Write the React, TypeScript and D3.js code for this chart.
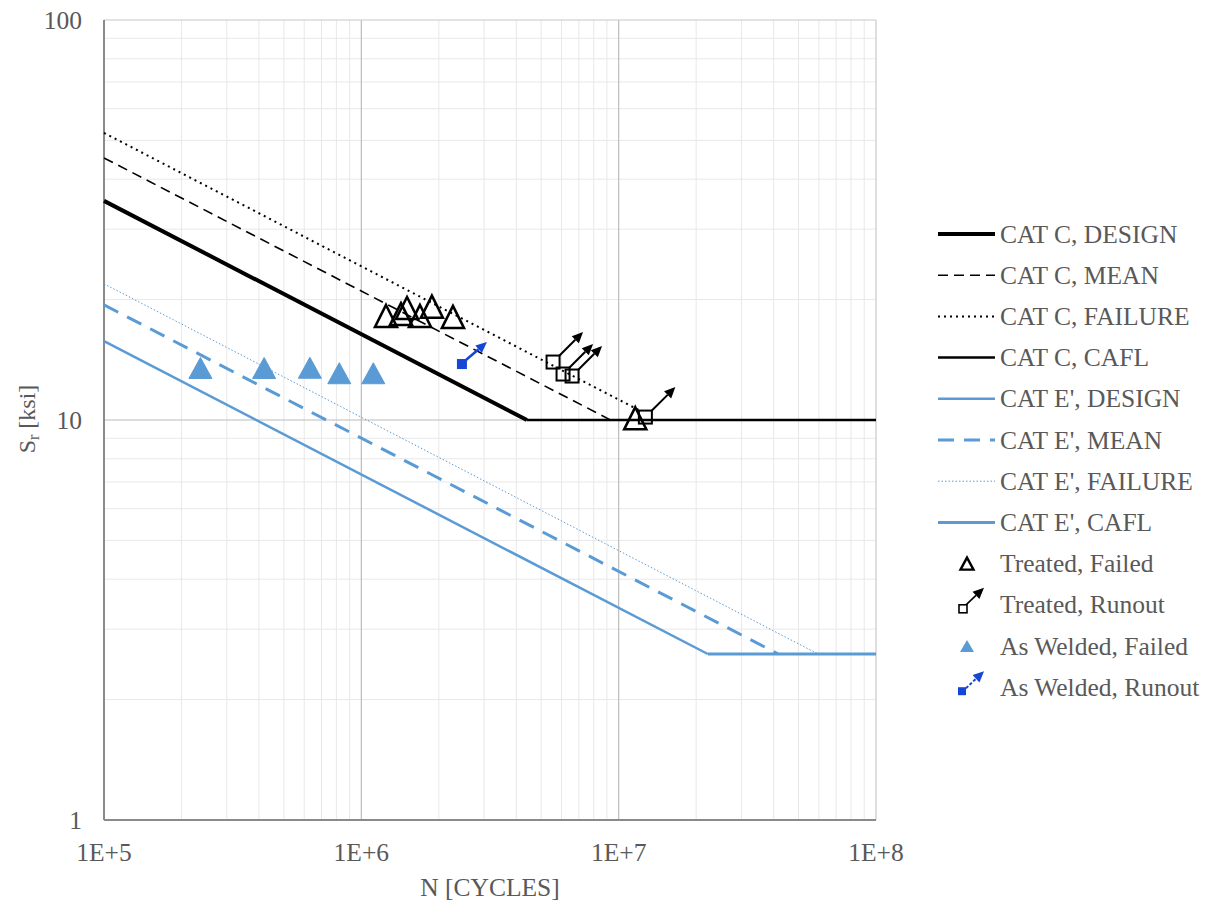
import React from "react";
import * as d3 from "d3";

// ---------- data ----------
const xDomain = [1e5, 1e8];
const yDomain = [1, 100];
const xTickLabels = ["1E+5", "1E+6", "1E+7", "1E+8"];
const yTickLabels = ["1", "10", "100"];

// S-N curves: [N, Sr]
const catCDesign = [[1e5, 35.3], [4.4e6, 10]];
const catCMean = [[1e5, 45.2], [9.3e6, 10]];
const catCFailure = [[1e5, 52.2], [1.2e7, 10.58]];
const catCCafl = [[4.4e6, 10], [1e8, 10]];
const catEDesign = [[1e5, 15.74], [2.22e7, 2.6]];
const catEMean = [[1e5, 19.4], [4.17e7, 2.6]];
const catEFailure = [[1e5, 21.9], [5.96e7, 2.6]];
const catECafl = [[2.22e7, 2.6], [1e8, 2.6]];

// test data: [N, Sr]
const treatedFailed = [
  [1.247e6, 18.2], [1.426e6, 18.4], [1.505e6, 19.05], [1.69e6, 18.2],
  [1.88e6, 19.2], [2.27e6, 18.1], [1.16e7, 10.1],
];
const treatedRunout = [[5.56e6, 13.96], [6.08e6, 13.03], [6.59e6, 12.88], [1.27e7, 10.17]];
const weldedFailed = [[2.37e5, 13.49], [4.19e5, 13.49], [6.31e5, 13.51], [8.21e5, 13.09], [1.113e6, 13.09]];
const weldedRunout = [[2.46e6, 13.8]];

const legendLabels = [
  "CAT C, DESIGN", "CAT C, MEAN", "CAT C, FAILURE", "CAT C, CAFL",
  "CAT E', DESIGN", "CAT E', MEAN", "CAT E', FAILURE", "CAT E', CAFL",
  "Treated, Failed", "Treated, Runout", "As Welded, Failed", "As Welded, Runout",
];

// ---------- styles ----------
const BLUE = "#5B9BD5";
const RUN_BLUE = "#1646d6";
const TEXT = "#595959";
const FONT = "'Liberation Serif', 'Times New Roman', serif";
const FS = 25.5;

const lineStyles = [
  { stroke: "#000", width: 4, dash: null },
  { stroke: "#000", width: 1.6, dash: "10,6" },
  { stroke: "#000", width: 2, dash: "2,4" },
  { stroke: "#000", width: 2.5, dash: null },
  { stroke: BLUE, width: 2.5, dash: null },
  { stroke: BLUE, width: 3, dash: "16,10" },
  { stroke: BLUE, width: 1, dash: "1.5,2" },
  { stroke: BLUE, width: 3, dash: null },
];
const curves = [catCDesign, catCMean, catCFailure, catCCafl, catEDesign, catEMean, catEFailure, catECafl];

const W = 1220, H = 907;
const L = 104, R = 876, T = 20, B = 820;

function triPath(cx: number, cy: number, w: number, h: number) {
  return `M${cx},${cy - h / 2}L${cx + w / 2},${cy + h / 2}L${cx - w / 2},${cy + h / 2}Z`;
}

function Arrow({ x1, y1, x2, y2, color, width, dash }: any) {
  const ang = Math.atan2(y2 - y1, x2 - x1);
  const hl = 11, hw = 5;
  const bx = x2 - hl * Math.cos(ang), by = y2 - hl * Math.sin(ang);
  const px = -Math.sin(ang) * hw, py = Math.cos(ang) * hw;
  return (
    <g>
      <line x1={x1} y1={y1} x2={bx} y2={by} stroke={color} strokeWidth={width} strokeDasharray={dash || undefined} />
      <path d={`M${x2},${y2}L${bx + px},${by + py}L${bx - px},${by - py}Z`} fill={color} />
    </g>
  );
}

export default function App() {
  const x = d3.scaleLog().domain(xDomain).range([L, R]);
  const y = d3.scaleLog().domain(yDomain).range([B, T]);
  const line = d3.line<number[]>().x((d) => x(d[0])).y((d) => y(d[1]));

  const xMinor: number[] = [];
  for (let e = 5; e < 8; e++) for (let k = 2; k <= 9; k++) xMinor.push(k * Math.pow(10, e));
  const yMinor: number[] = [];
  for (let e = 0; e < 2; e++) for (let k = 2; k <= 9; k++) yMinor.push(k * Math.pow(10, e));
  const xMajor = [1e6, 1e7];
  const yMajor = [10];

  const legendY0 = 234, legendDy = 41.2;
  const lx1 = 938, lx2 = 995, ltx = 1000;

  return (
    <svg width={W} height={H} style={{ position: "fixed", left: 0, top: 0, background: "#fff" }} fontFamily={FONT}>
      <rect x={0} y={0} width={W} height={H} fill="#fff" />
      {/* minor grid */}
      {xMinor.map((v, i) => (
        <line key={"xm" + i} x1={x(v)} x2={x(v)} y1={T} y2={B} stroke="#e8e8e8" strokeWidth={1} />
      ))}
      {yMinor.map((v, i) => (
        <line key={"ym" + i} x1={L} x2={R} y1={y(v)} y2={y(v)} stroke="#e8e8e8" strokeWidth={1} />
      ))}
      {xMajor.map((v, i) => (
        <line key={"xM" + i} x1={x(v)} x2={x(v)} y1={T} y2={B} stroke="#bcbcbc" strokeWidth={1.2} />
      ))}
      {yMajor.map((v, i) => (
        <line key={"yM" + i} x1={L} x2={R} y1={y(v)} y2={y(v)} stroke="#bcbcbc" strokeWidth={1.2} />
      ))}
      {/* border */}
      <line x1={L} x2={R} y1={T} y2={T} stroke="#c8c8c8" strokeWidth={1.2} />
      <line x1={R} x2={R} y1={T} y2={B} stroke="#c8c8c8" strokeWidth={1.2} />
      <line x1={L} x2={L} y1={T} y2={B} stroke="#8a8a8a" strokeWidth={2} />
      <line x1={L} x2={R} y1={B} y2={B} stroke="#8a8a8a" strokeWidth={2} />

      {/* curves */}
      {curves.map((c, i) => (
        <path key={"c" + i} d={line(c as any) || ""} fill="none" stroke={lineStyles[i].stroke}
          strokeWidth={lineStyles[i].width} strokeDasharray={lineStyles[i].dash || undefined} />
      ))}

      {/* as welded failed */}
      {weldedFailed.map((d, i) => (
        <path key={"wf" + i} d={triPath(x(d[0]), y(d[1]), 23, 21)} fill={BLUE} stroke={BLUE} strokeWidth={1} />
      ))}
      {/* as welded runout */}
      {weldedRunout.map((d, i) => {
        const cx = x(d[0]), cy = y(d[1]);
        return (
          <g key={"wr" + i}>
            <Arrow x1={cx + 4} y1={cy - 4} x2={cx + 25} y2={cy - 22} color={RUN_BLUE} width={2.5} />
            <rect x={cx - 5} y={cy - 5} width={10} height={10} fill={RUN_BLUE} />
          </g>
        );
      })}
      {/* treated failed */}
      {treatedFailed.map((d, i) => (
        <path key={"tf" + i} d={triPath(x(d[0]), y(d[1]), 22, 22)} fill="none" stroke="#000" strokeWidth={2.6} strokeLinejoin="miter" />
      ))}
      {/* treated runout */}
      {treatedRunout.map((d, i) => {
        const cx = x(d[0]), cy = y(d[1]);
        return (
          <g key={"tr" + i}>
            <Arrow x1={cx + 6} y1={cy - 6} x2={cx + 30} y2={cy - 30} color="#000" width={2} />
            <rect x={cx - 6.5} y={cy - 6.5} width={13} height={13} fill="none" stroke="#000" strokeWidth={2} />
          </g>
        );
      })}

      {/* tick labels */}
      {xTickLabels.map((t, i) => (
        <text key={"xt" + i} x={x(Math.pow(10, 5 + i))} y={861} textAnchor="middle" fontSize={FS} fill={TEXT}>{t}</text>
      ))}
      {yTickLabels.map((t, i) => (
        <text key={"yt" + i} x={82} y={y(Math.pow(10, i))} textAnchor="end" dominantBaseline="central" fontSize={FS} fill={TEXT}>{t}</text>
      ))}
      <text x={(L + R) / 2} y={896} textAnchor="middle" fontSize={FS} fill={TEXT}>N [CYCLES]</text>
      <text transform={`translate(35,${(T + B) / 2 - 1}) rotate(-90)`} textAnchor="middle" fontSize={24} fill={TEXT}>
        S<tspan fontSize={16} dy={4}>r</tspan><tspan dy={-4}> [ksi]</tspan>
      </text>

      {/* legend */}
      {legendLabels.map((lab, i) => {
        const ly = legendY0 + i * legendDy;
        let sym: any = null;
        if (i < 8) {
          const s = lineStyles[i];
          sym = <line x1={lx1} x2={lx2} y1={ly} y2={ly} stroke={s.stroke} strokeWidth={s.width} strokeDasharray={s.dash || undefined} />;
        } else if (i === 8) {
          sym = <path d={triPath(967, ly, 13, 12)} fill="none" stroke="#000" strokeWidth={2.4} />;
        } else if (i === 9) {
          sym = (
            <g>
              <Arrow x1={966} y1={ly} x2={984} y2={ly - 17} color="#000" width={1.6} />
              <rect x={959} y={ly} width={8} height={8} fill="#fff" stroke="#000" strokeWidth={1.6} />
            </g>
          );
        } else if (i === 10) {
          sym = <path d={triPath(967, ly, 14, 12)} fill={BLUE} />;
        } else {
          sym = (
            <g>
              <Arrow x1={966} y1={ly + 1} x2={984} y2={ly - 16} color={RUN_BLUE} width={2} dash="3,2" />
              <rect x={958} y={ly} width={8} height={8} fill={RUN_BLUE} />
            </g>
          );
        }
        return (
          <g key={"lg" + i}>
            {sym}
            <text x={ltx} y={ly} dominantBaseline="central" fontSize={FS} fill={TEXT}>{lab}</text>
          </g>
        );
      })}
    </svg>
  );
}
